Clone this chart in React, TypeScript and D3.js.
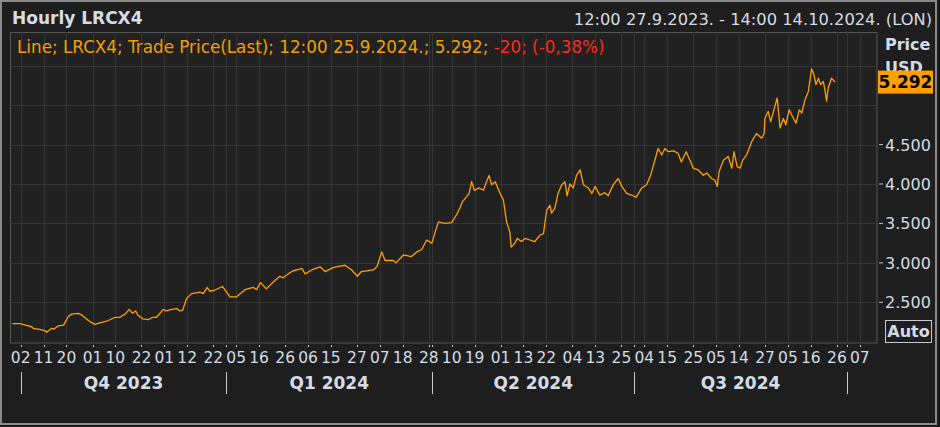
import * as d3 from 'd3';

// UK exchange holidays inside the window (no hourly bars on these days)
const holidays = [
  "2023-12-25", "2023-12-26", "2024-01-01", "2024-03-29",
  "2024-04-01", "2024-05-06", "2024-05-27", "2024-08-26",
];

const tickDates = [
  "2023-10-02", "2023-10-11", "2023-10-20", "2023-11-01", "2023-11-10", "2023-11-22",
  "2023-12-01", "2023-12-12", "2023-12-22", "2024-01-05", "2024-01-16", "2024-01-26",
  "2024-02-06", "2024-02-15", "2024-02-27", "2024-03-07", "2024-03-18", "2024-03-28",
  "2024-04-10", "2024-04-19", "2024-05-01", "2024-05-13", "2024-05-22", "2024-06-04",
  "2024-06-13", "2024-06-25", "2024-07-04", "2024-07-15", "2024-07-25", "2024-08-05",
  "2024-08-14", "2024-08-27", "2024-09-05", "2024-09-16", "2024-09-26", "2024-10-07",
];

const quarterStarts = ["2023-10-02", "2024-01-02", "2024-04-02", "2024-07-01", "2024-10-01"];
const quarterLabels = ["Q4 2023", "Q1 2024", "Q2 2024", "Q3 2024"];

const gridPrices = [2.5, 3, 3.5, 4, 4.5, 5, 5.5];
const labelPrices = [2.5, 3, 3.5, 4, 4.5];

const times = [
  "2023-09-27 12:00", "2023-09-29 15:00", "2023-10-03 12:00", "2023-10-05 11:00", "2023-10-05 15:00",
  "2023-10-09 11:00", "2023-10-11 12:00", "2023-10-11 16:00", "2023-10-13 12:00", "2023-10-16 09:00",
  "2023-10-17 12:00", "2023-10-19 09:00", "2023-10-20 13:00", "2023-10-23 13:00", "2023-10-25 13:00",
  "2023-10-26 14:00", "2023-10-30 14:00", "2023-11-01 14:00", "2023-11-03 10:00", "2023-11-07 11:00",
  "2023-11-09 16:00", "2023-11-13 11:00", "2023-11-14 16:00", "2023-11-16 10:00", "2023-11-17 10:00",
  "2023-11-20 10:00", "2023-11-20 15:00", "2023-11-22 11:00", "2023-11-24 09:00", "2023-11-27 12:00",
  "2023-11-28 13:00", "2023-11-30 14:00", "2023-12-01 14:00", "2023-12-05 10:00", "2023-12-06 15:00",
  "2023-12-07 15:00", "2023-12-08 13:00", "2023-12-11 15:00", "2023-12-13 11:00", "2023-12-15 16:00",
  "2023-12-18 16:00", "2023-12-20 09:00", "2023-12-20 16:00", "2023-12-22 09:00", "2023-12-28 15:00",
  "2024-01-03 09:00", "2024-01-05 09:00", "2024-01-09 14:00", "2024-01-12 10:00", "2024-01-15 10:00",
  "2024-01-16 12:00", "2024-01-18 10:00", "2024-01-22 16:00", "2024-01-24 11:00", "2024-01-25 11:00",
  "2024-01-26 16:00", "2024-01-30 12:00", "2024-02-01 12:00", "2024-02-02 09:00", "2024-02-05 09:00",
  "2024-02-07 09:00", "2024-02-09 14:00", "2024-02-13 10:00", "2024-02-15 14:00", "2024-02-19 15:00",
  "2024-02-21 11:00", "2024-02-23 11:00", "2024-02-27 09:00", "2024-02-28 11:00", "2024-03-05 08:00",
  "2024-03-06 09:00", "2024-03-07 13:00", "2024-03-08 13:00", "2024-03-13 09:00", "2024-03-13 16:00",
  "2024-03-18 10:00", "2024-03-20 14:00", "2024-03-22 11:00", "2024-03-25 15:00", "2024-03-27 11:00",
  "2024-03-28 16:00", "2024-04-02 16:00", "2024-04-03 16:00", "2024-04-05 16:00", "2024-04-10 08:00",
  "2024-04-11 12:00", "2024-04-12 12:00", "2024-04-15 11:00", "2024-04-16 13:00", "2024-04-17 11:00",
  "2024-04-18 09:00", "2024-04-18 16:00", "2024-04-22 12:00", "2024-04-23 14:00", "2024-04-24 14:00",
  "2024-04-25 12:00", "2024-04-26 10:00", "2024-04-29 11:00", "2024-04-30 15:00", "2024-05-01 15:00",
  "2024-05-02 15:00", "2024-05-03 15:00", "2024-05-07 10:00", "2024-05-08 11:00", "2024-05-09 09:00",
  "2024-05-10 11:00", "2024-05-13 12:00", "2024-05-15 08:00", "2024-05-16 12:00", "2024-05-20 08:00",
  "2024-05-21 09:00", "2024-05-22 09:00", "2024-05-23 09:00", "2024-05-23 13:00", "2024-05-24 13:00",
  "2024-05-28 13:00", "2024-05-29 14:00", "2024-05-30 14:00", "2024-05-31 11:00", "2024-06-03 10:00",
  "2024-06-04 10:00", "2024-06-05 10:00", "2024-06-06 11:00", "2024-06-07 11:00", "2024-06-10 15:00",
  "2024-06-11 16:00", "2024-06-12 16:00", "2024-06-14 11:00", "2024-06-17 16:00", "2024-06-18 16:00",
  "2024-06-20 12:00", "2024-06-24 08:00", "2024-06-25 09:00", "2024-06-26 13:00", "2024-06-28 09:00",
  "2024-07-01 12:00", "2024-07-03 10:00", "2024-07-04 14:00", "2024-07-05 16:00", "2024-07-09 10:00",
  "2024-07-10 10:00", "2024-07-11 11:00", "2024-07-12 11:00", "2024-07-15 11:00", "2024-07-16 16:00",
  "2024-07-18 11:00", "2024-07-19 11:00", "2024-07-22 15:00", "2024-07-24 08:00", "2024-07-25 08:00",
  "2024-07-26 12:00", "2024-07-30 09:00", "2024-07-31 09:00", "2024-08-01 13:00", "2024-08-02 13:00",
  "2024-08-05 11:00", "2024-08-05 16:00", "2024-08-07 10:00", "2024-08-08 14:00", "2024-08-09 15:00",
  "2024-08-12 12:00", "2024-08-13 12:00", "2024-08-14 11:00", "2024-08-15 09:00", "2024-08-16 11:00",
  "2024-08-19 16:00", "2024-08-21 11:00", "2024-08-22 16:00", "2024-08-23 14:00", "2024-08-23 16:00",
  "2024-08-27 16:00", "2024-08-28 14:00", "2024-08-29 14:00", "2024-08-30 14:00", "2024-09-02 13:00",
  "2024-09-03 13:00", "2024-09-04 11:00", "2024-09-05 11:00", "2024-09-06 11:00", "2024-09-09 12:00",
  "2024-09-10 12:00", "2024-09-11 10:00", "2024-09-12 10:00", "2024-09-13 10:00", "2024-09-16 10:00",
  "2024-09-16 16:00", "2024-09-17 13:00", "2024-09-18 11:00", "2024-09-19 08:00", "2024-09-19 15:00",
  "2024-09-20 11:00", "2024-09-20 15:00", "2024-09-23 11:00", "2024-09-24 11:00", "2024-09-25 12:00",
];

const prices = [
  2.23, 2.23, 2.21, 2.19, 2.17, 2.16, 2.14, 2.12, 2.17, 2.16,
  2.20, 2.21, 2.32, 2.35, 2.36, 2.34, 2.27, 2.22, 2.24, 2.26,
  2.31, 2.31, 2.35, 2.41, 2.36, 2.39, 2.34, 2.29, 2.28, 2.31,
  2.31, 2.41, 2.39, 2.41, 2.42, 2.39, 2.40, 2.55, 2.61, 2.63,
  2.61, 2.69, 2.64, 2.65, 2.70, 2.57, 2.57, 2.66, 2.69, 2.66,
  2.75, 2.67, 2.78, 2.83, 2.81, 2.86, 2.90, 2.92, 2.93, 2.86,
  2.91, 2.95, 2.89, 2.94, 2.96, 2.97, 2.91, 2.83, 2.89, 2.91,
  2.95, 3.14, 3.03, 3.03, 3.00, 3.10, 3.08, 3.14, 3.17, 3.29,
  3.25, 3.39, 3.52, 3.50, 3.51, 3.61, 3.69, 3.78, 3.84, 3.88,
  4.03, 3.92, 3.95, 3.92, 4.03, 4.11, 3.99, 4.03, 3.88, 3.80,
  3.52, 3.39, 3.20, 3.25, 3.31, 3.27, 3.31, 3.29, 3.27, 3.35,
  3.37, 3.67, 3.73, 3.63, 3.69, 3.88, 3.99, 4.03, 3.85, 4.00,
  3.95, 4.11, 4.18, 3.99, 3.95, 3.88, 3.97, 3.86, 3.89, 3.85,
  3.99, 4.07, 3.97, 3.88, 3.86, 3.83, 3.95, 3.99, 4.11, 4.30,
  4.45, 4.37, 4.45, 4.41, 4.42, 4.39, 4.28, 4.41, 4.30, 4.20,
  4.18, 4.11, 4.14, 4.07, 4.05, 3.97, 4.16, 4.30, 4.35, 4.20,
  4.41, 4.22, 4.20, 4.30, 4.37, 4.54, 4.64, 4.58, 4.64, 4.83,
  4.92, 4.79, 4.94, 5.09, 4.71, 4.83, 4.75, 4.94, 4.86, 4.77,
  4.94, 4.90, 5.07, 5.17, 5.46, 5.39, 5.26, 5.34, 5.26, 5.30,
  5.19, 5.05, 5.22, 5.34, 5.292,
];

const W = 940;
const H = 427;
const plot = { left: 10.5, top: 32.5, right: 877, bottom: 343 };
const FONT = '"DejaVu Sans", Verdana, sans-serif';
const TEXT = '#d5dce5';
const ORANGE = '#ffa000';

// trading-day index (bars only exist on exchange days, so the axis skips weekends/holidays)
const fmtDay = d3.utcFormat('%Y-%m-%d');
const dayIndex = new Map<string, number>();
{
  let i = 0;
  for (const d of d3.utcDays(new Date(Date.UTC(2023, 8, 27)), new Date(Date.UTC(2024, 9, 15)))) {
    const s = fmtDay(d);
    const wd = d.getUTCDay();
    if (wd === 0 || wd === 6 || holidays.includes(s)) continue;
    dayIndex.set(s, i++);
  }
}

function tradingTime(t: string) {
  const [day, hm] = t.split(' ');
  const h = hm ? +hm.slice(0, 2) + +hm.slice(3) / 60 : 0;
  return (dayIndex.get(day) ?? 0) + Math.max(0, Math.min(1, (h - 8) / 8.5));
}

export default function App() {
  const x = d3.scaleLinear()
    .domain([tradingTime(quarterStarts[0]), tradingTime(quarterStarts[4])])
    .range([20.7, 846.7]);
  const y = d3.scaleLinear().domain([2.5, 5.5]).range([302.3, 65.7]);

  const points = times.map((t, i) => ({ t: tradingTime(t), v: prices[i] }));
  const line = d3.line<{ t: number; v: number }>()
    .x(d => x(d.t))
    .y(d => y(d.v));

  const last = prices[prices.length - 1];
  const lastY = y(last);
  const qx = quarterStarts.map(q => x(tradingTime(q)));

  return (
    <div style={{ position: 'fixed', left: 0, top: 0 }}>
      <svg width={W} height={H} style={{ display: 'block', fontFamily: FONT }}>
        <defs>
          <clipPath id="plot-clip">
            <rect x={plot.left} y={plot.top} width={plot.right - plot.left} height={plot.bottom - plot.top} />
          </clipPath>
        </defs>
        <rect x={0} y={0} width={W} height={H} fill="#1c1c1c" />
        <rect x={1} y={1} width={935} height={423} fill="#1e1e1e" stroke="#8a8a8a" strokeWidth={2} />

        {/* header */}
        <text x={12} y={24} fill={TEXT} fontSize={17} fontWeight="bold">Hourly LRCX4</text>
        <text x={932} y={25} fill={TEXT} fontSize={16.3} textAnchor="end">
          12:00 27.9.2023. - 14:00 14.10.2024. (LON)
        </text>

        {/* plot area */}
        <rect x={plot.left} y={plot.top} width={plot.right - plot.left} height={plot.bottom - plot.top}
          fill="#212121" stroke="#555" strokeWidth={1} />
        <g stroke="#353535" strokeWidth={1}>
          {gridPrices.map(p => (
            <line key={p} x1={plot.left} x2={plot.right} y1={Math.round(y(p)) + 0.5} y2={Math.round(y(p)) + 0.5} />
          ))}
          {[...tickDates, ...quarterStarts].map(d => {
            const xx = Math.round(x(tradingTime(d))) + 0.5;
            return <line key={'g' + d} x1={xx} x2={xx} y1={plot.top} y2={plot.bottom} />;
          })}
        </g>

        <g clipPath="url(#plot-clip)">
          <path d={line(points) ?? ''} fill="none" stroke={ORANGE} strokeWidth={1.3} strokeLinejoin="round" />
        </g>

        {/* legend */}
        <text x={17} y={53} fontSize={16.8}>
          <tspan fill="#f0a000">{`Line; LRCX4; Trade Price(Last); 12:00 25.9.2024.; ${d3.format('.3f')(last)}; `}</tspan>
          <tspan fill="#ff2a1a">-20; (-0,38%)</tspan>
        </text>

        {/* right price axis */}
        <text x={885} y={50} fill={TEXT} fontSize={16} fontWeight="bold">Price</text>
        <text x={885} y={73} fill={TEXT} fontSize={16} fontWeight="bold">USD</text>
        {labelPrices.map(p => (
          <g key={p}>
            <line x1={879} x2={883} y1={y(p)} y2={y(p)} stroke="#c0c6ce" />
            <text x={885} y={y(p) + 6} fill={TEXT} fontSize={16}>{d3.format(',.3f')(p).replace(',', '.')}</text>
          </g>
        ))}
        <rect x={878} y={lastY - 11.5} width={55} height={23} fill={ORANGE} />
        <text x={905.5} y={lastY + 6} fontSize={17} fontWeight="bold" fill="#000" textAnchor="middle">
          {d3.format('.3f')(last)}
        </text>
        <rect x={885.5} y={320.5} width={46} height={22} fill="none" stroke="#c8ccd2" />
        <text x={908.5} y={337} fill={TEXT} fontSize={16} fontWeight="bold" textAnchor="middle">Auto</text>

        {/* time axis */}
        {tickDates.map(d => {
          const xx = x(tradingTime(d));
          return (
            <g key={'t' + d}>
              <rect x={Math.round(xx)} y={345} width={1} height={2} fill="#c8ccd2" />
              <text x={xx} y={363} fill={TEXT} fontSize={15.5} textAnchor="middle">{d.slice(8)}</text>
            </g>
          );
        })}
        {qx.map((xx, i) => (
          <g key={'q' + i}>
            <rect x={Math.round(xx)} y={345} width={1} height={2} fill="#c8ccd2" />
            <line x1={Math.round(xx) + 0.5} x2={Math.round(xx) + 0.5} y1={372} y2={394} stroke="#c8ccd2" />
          </g>
        ))}
        {quarterLabels.map((q, i) => (
          <text key={q} x={(qx[i] + qx[i + 1]) / 2} y={389} fill={TEXT} fontSize={17} fontWeight="bold" textAnchor="middle">
            {q}
          </text>
        ))}
      </svg>
    </div>
  );
}
